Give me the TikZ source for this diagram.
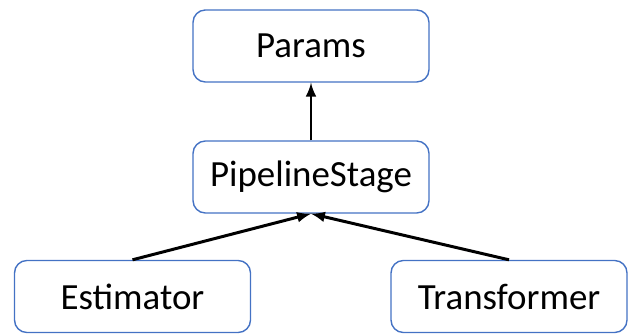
\documentclass[tikz,border=0pt]{standalone}
\usepackage{fontspec}
\setmainfont{Carlito}
\definecolor{boxblue}{HTML}{4472C4}
\begin{document}
\begin{tikzpicture}[x=0.02cm, y=0.02cm]
	    \tikzset{>=latex}
	    \tikzset{classbox/.style={draw=boxblue, line width=0.8pt, rounded corners=7pt, fill=white,
	        minimum width=4.72cm, minimum height=1.44cm, inner sep=0pt, font=\fontsize{21}{25}\selectfont}}
	    \tikzset{inherit/.style={->, line width=1.7pt, black}}
	    \useasboundingbox (0,0) rectangle (628,334);
	    \node [classbox] (params) at (311,288) {Params};
	    \node [classbox] (stage) at (311,157) {PipelineStage};
	    \node [classbox] (estimator) at (132.5,37.5) {Estimator};
	    \node [classbox] (transformer) at (509,37.5) {Transformer};
	    \draw [inherit] (stage.north) -- (params.south);
	    \draw [inherit] (estimator.north) -- (stage.south);
	    \draw [inherit] (transformer.north) -- (stage.south);
	\end{tikzpicture}
\end{document}
